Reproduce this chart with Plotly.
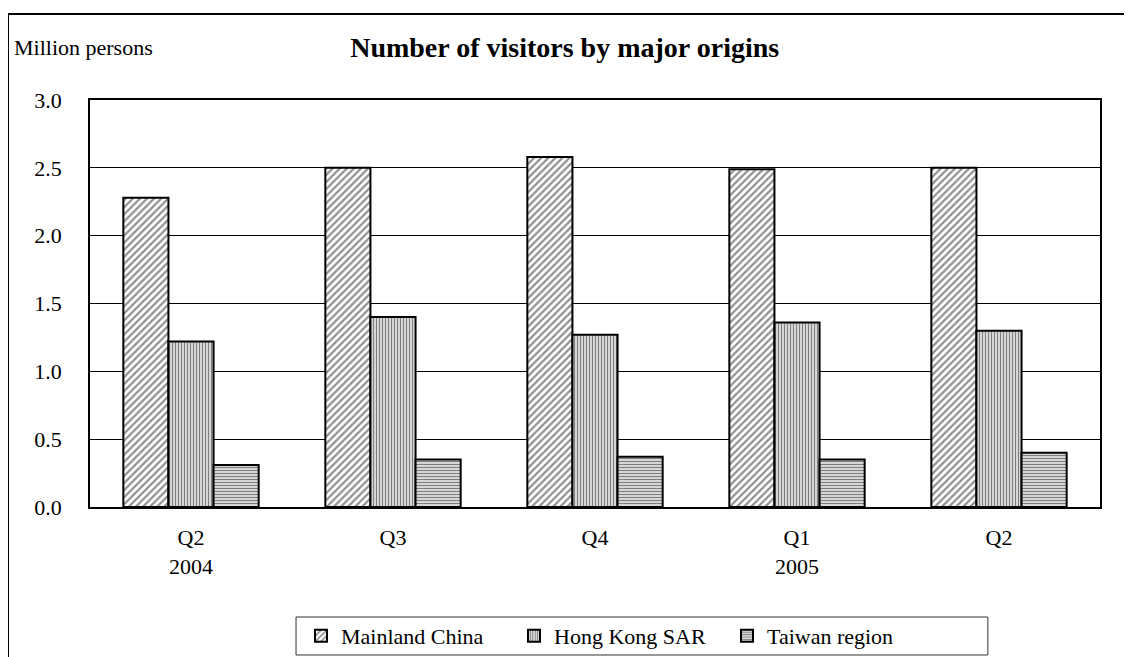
import plotly.graph_objects as go

# Dados (milhões de pessoas)
trimestres = ['Q2 2004', 'Q3 2004', 'Q4 2004', 'Q1 2005', 'Q2 2005']
rotulos_x = ['Q2<br>2004', 'Q3', 'Q4', 'Q1<br>2005', 'Q2']
continente = [2.28, 2.50, 2.58, 2.49, 2.50]
hong_kong = [1.22, 1.40, 1.27, 1.36, 1.30]
taiwan = [0.31, 0.35, 0.37, 0.35, 0.40]

series = [
    ('Mainland China', continente, '/', '#222222', 5, 0.45),
    ('Hong Kong SAR', hong_kong, '|', '#000000', 3, 0.55),
    ('Taiwan region', taiwan, '-', '#000000', 3, 0.55),
]

FONTE = 'Liberation Serif, Times New Roman, serif'

fig = go.Figure()

for nome, valores, padrao, cor, tam, solid in series:
    fig.add_trace(go.Bar(
        x=trimestres,
        y=valores,
        name=nome,
        marker=dict(
            color='white',
            line=dict(color='black', width=2),
            pattern=dict(shape=padrao, fgcolor=cor, bgcolor='white',
                         size=tam, solidity=solid)
        )
    ))

# Moldura externa do gráfico
fig.add_shape(type='rect', xref='paper', yref='paper',
              x0=-0.0812, x1=1.05, y0=-0.45, y1=1.2113,
              line=dict(color='black', width=2), layer='below')

# Caixa da legenda
fig.add_shape(type='rect', xref='paper', yref='paper',
              x0=0.204, x1=0.889, y0=-0.3636, y1=-0.2703,
              line=dict(color='#333333', width=1), fillcolor='white', layer='below')

fig.add_annotation(text='Million persons', xref='paper', yref='paper',
                   x=-0.0772, y=1.130, xanchor='left', yanchor='middle',
                   showarrow=False, font=dict(family=FONTE, size=22, color='black'))

# A página tem 8px de margem no body: figura 1124x649
fig.update_layout(
    title=dict(
        text='<b>Number of visitors by major origins</b>',
        x=0.47, xref='paper', xanchor='center',
        y=1 - 39 / 649, yanchor='middle',
        font=dict(family=FONTE, size=28, color='black')
    ),
    width=1124,
    height=649,
    margin=dict(l=82, r=32, t=92, b=150),
    paper_bgcolor='white',
    plot_bgcolor='white',
    barmode='group',
    bargap=0.33,
    bargroupgap=0,
    font=dict(family=FONTE, size=22, color='black'),
    xaxis=dict(
        tickvals=trimestres,
        ticktext=rotulos_x,
        showgrid=False,
        showline=True,
        linecolor='black',
        linewidth=1.5,
        mirror=True,
        ticks='',
        ticklabelstandoff=10,
        tickfont=dict(family=FONTE, size=22)
    ),
    yaxis=dict(
        range=[0, 3.0],
        dtick=0.5,
        tickformat='.1f',
        showgrid=True,
        gridcolor='black',
        gridwidth=1,
        showline=True,
        linecolor='black',
        linewidth=1.5,
        mirror=True,
        ticks='',
        ticklabelstandoff=22,
        zeroline=False,
        tickfont=dict(family=FONTE, size=22)
    ),
    legend=dict(
        orientation='h',
        x=0.2089, xanchor='left',
        yref='container', y=1 - 628 / 649, yanchor='middle',
        bgcolor='rgba(0,0,0,0)',
        borderwidth=0,
        font=dict(family=FONTE, size=22),
        entrywidth=168,
        itemwidth=30
    ),
    showlegend=True
)

fig.write_html('out.html')
